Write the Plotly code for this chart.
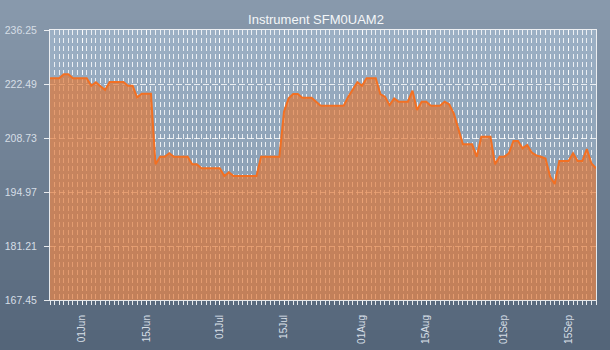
import plotly.graph_objects as go
import pandas as pd

title_text = "Instrument SFM0UAM2"
start_date = "2023-05-25"
values = [
    223.94, 223.94, 223.94, 224.96, 224.96, 223.94, 223.94, 223.94, 223.94, 222.06,
    222.92, 221.90, 220.96, 223.00, 223.00, 223.00, 223.00, 222.06, 222.06, 219.10,
    220.00, 220.00, 220.00, 202.03, 203.96, 203.96, 204.83, 203.96, 203.96, 203.96,
    203.96, 202.03, 202.03, 201.00, 201.00, 201.00, 201.00, 201.00, 199.04, 199.98,
    199.04, 199.04, 199.04, 199.04, 199.04, 199.04, 203.96, 203.96, 203.96, 203.96,
    203.96, 215.43, 218.84, 219.94, 219.94, 219.00, 219.00, 219.00, 217.98, 216.96,
    216.96, 216.96, 216.96, 216.96, 216.96, 219.25, 220.96, 222.92, 222.06, 223.94,
    223.94, 223.94, 219.94, 219.25, 217.14, 218.84, 217.98, 217.98, 217.98, 220.78,
    215.86, 217.98, 217.98, 216.96, 216.96, 216.96, 217.98, 217.31, 215.00, 211.00,
    207.12, 207.12, 207.12, 203.96, 209.06, 209.06, 209.06, 202.03, 203.96, 203.96,
    204.83, 207.96, 207.96, 206.10, 206.94, 205.00, 204.30, 203.96, 203.50, 198.90,
    197.00, 202.87, 202.87, 202.87, 204.83, 202.87, 202.87, 205.92, 202.28, 201.00,
]
dates = pd.date_range(start_date, periods=len(values), freq="D")

y_ticks = [167.45, 181.21, 194.97, 208.73, 222.49, 236.25]
y_tick_labels = ["167.45", "181.21", "194.97", "208.73", "222.49", "236.25"]
x_tick_dates = ["2023-06-01", "2023-06-15", "2023-07-01", "2023-07-15",
                "2023-08-01", "2023-08-15", "2023-09-01", "2023-09-15"]
x_tick_labels = ["01Jun", "15Jun", "01Jul", "15Jul", "01Aug", "15Aug", "01Sep", "15Sep"]

W, H = 610, 350
ML, MR, MT, MB = 50, 14, 30, 50
PW, PH = W - ML - MR, H - MT - MB

# background gradient bands (paper coords)
top_c = (137, 154, 173)
bot_c = (83, 100, 120)
shapes = []
N = 35
for i in range(N):
    t = (i + 0.5) / N
    c = tuple(int(round(top_c[k] + (bot_c[k] - top_c[k]) * t)) for k in range(3))
    py0 = i * H / N
    py1 = (i + 1) * H / N + 1
    shapes.append(dict(
        type="rect", xref="paper", yref="paper", layer="below",
        x0=-ML / PW, x1=(W - ML) / PW,
        y0=(H - MB - py1) / PH, y1=(H - MB - py0) / PH,
        fillcolor="rgb(%d,%d,%d)" % c, line=dict(width=0),
    ))
shapes.append(dict(
    type="rect", xref="paper", yref="paper", layer="below",
    x0=0, x1=1, y0=0, y1=1,
    fillcolor="rgba(200,225,250,0.35)", line=dict(width=0),
))

grid_c = "rgba(255,255,255,0.8)"
axis_c = "rgba(255,255,255,0.85)"
font_family = "Liberation Sans, Arial, sans-serif"

fig = go.Figure()
fig.add_trace(go.Scatter(
    x=dates, y=values, mode="lines",
    line=dict(color="#f27023", width=2),
    fill="tozeroy", fillcolor="rgba(226,118,52,0.68)",
    hoverinfo="skip",
))

fig.update_layout(
    width=W, height=H,
    margin=dict(l=ML, r=MR, t=MT, b=MB, pad=0, autoexpand=False),
    paper_bgcolor="rgb(110,127,147)",
    plot_bgcolor="rgba(0,0,0,0)",
    showlegend=False,
    shapes=shapes,
    title=dict(
        text=title_text, x=316 / W, xanchor="center", xref="container",
        y=1 - 19 / H, yanchor="middle", yref="container",
        font=dict(family=font_family, size=13, color="#f4f6f8"),
    ),
    xaxis=dict(
        type="date", range=[dates[0], dates[-1]], automargin=False,
        tickmode="array", tickvals=x_tick_dates, ticktext=x_tick_labels,
        tickangle=-90, ticks="outside", ticklen=4, tickcolor=axis_c,
        ticklabelstandoff=6,
        showgrid=True, gridcolor=grid_c, griddash="5px,3px", gridwidth=1,
        minor=dict(dtick=86400000, ticks="outside", ticklen=4, tickcolor=axis_c,
                   showgrid=True, gridcolor=grid_c, griddash="5px,3px", gridwidth=1),
        showline=True, linecolor=axis_c, linewidth=1, mirror=True,
        zeroline=False,
        tickfont=dict(family=font_family, size=10, color="#d6dee6"),
    ),
    yaxis=dict(
        range=[y_ticks[0], y_ticks[-1]], automargin=False,
        tickmode="array", tickvals=y_ticks, ticktext=y_tick_labels,
        ticks="outside", ticklen=5, tickcolor=axis_c,
        ticklabelstandoff=5,
        showgrid=True, gridcolor=grid_c, griddash="6px,3px", gridwidth=1,
        showline=True, linecolor=axis_c, linewidth=1, mirror=True,
        zeroline=False,
        tickfont=dict(family=font_family, size=10.5, color="#d6dee6"),
    ),
)

fig.write_html("out.html")
